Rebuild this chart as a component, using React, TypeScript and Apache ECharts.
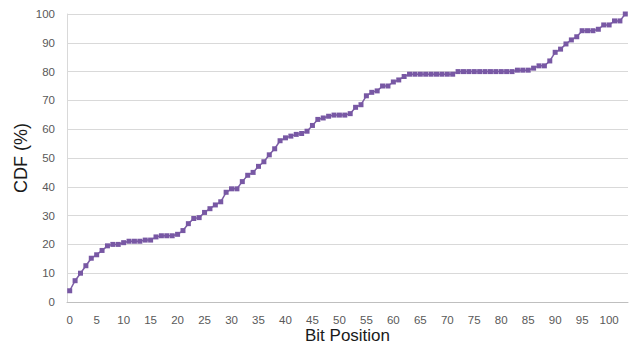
import React, { useEffect, useRef } from "react";
import * as echarts from "echarts";

// Bit positions 0..103 on the horizontal axis
const bitPositions: string[] = Array.from({ length: 104 }, (_, i) => String(i));

// Cumulative distribution (%) at each bit position
const cdfValues: number[] = [
  3.9, 7.4, 10.0, 12.6, 15.2, 16.4, 17.9, 19.5, 20.0, 20.0,
  20.6, 21.1, 21.1, 21.1, 21.5, 21.5, 22.6, 23.0, 23.0, 23.0,
  23.5, 24.8, 27.2, 29.0, 29.3, 31.1, 32.4, 33.7, 34.8, 38.1,
  39.3, 39.3, 41.8, 44.0, 45.0, 47.1, 48.7, 51.1, 53.2, 56.0,
  57.0, 57.6, 58.2, 58.5, 59.3, 61.3, 63.4, 63.9, 64.5, 64.9,
  64.9, 64.9, 65.4, 67.6, 68.5, 71.6, 72.8, 73.3, 75.0, 75.0,
  76.4, 77.1, 78.3, 79.1, 79.1, 79.1, 79.1, 79.1, 79.1, 79.1,
  79.1, 79.1, 80.0, 80.0, 80.0, 80.0, 80.0, 80.0, 80.0, 80.0,
  80.0, 80.0, 80.0, 80.5, 80.5, 80.5, 81.2, 82.0, 82.0, 83.7,
  86.7, 87.8, 89.6, 91.0, 92.1, 94.2, 94.2, 94.2, 94.7, 96.2,
  96.2, 97.6, 97.6, 100.0,
];

const xAxisTitle = "Bit Position";
const yAxisTitle = "CDF (%)";

export default function App() {
  const ref = useRef<HTMLDivElement>(null);

  useEffect(() => {
    if (!ref.current) return;
    const chart = echarts.init(ref.current, null, { renderer: "svg" });
    const font = "Liberation Sans, Arial, sans-serif";
    chart.setOption({
      animation: false,
      backgroundColor: "#ffffff",
      grid: {
        left: 67,
        right: 10,
        top: 14,
        bottom: 46,
        containLabel: false,
        outerBoundsMode: "none",
      },
      xAxis: {
        type: "category",
        data: bitPositions,
        boundaryGap: true,
        name: xAxisTitle,
        nameLocation: "middle",
        nameGap: 25,
        nameMoveOverlap: false,
        nameTextStyle: { fontFamily: font, fontSize: 17, color: "#1a1a1a" },
        axisLine: { lineStyle: { color: "#bfbfbf", width: 1 } },
        axisTick: { show: false },
        axisLabel: {
          interval: 4,
          fontFamily: font,
          fontSize: 11.5,
          color: "#595959",
          margin: 12,
        },
        splitLine: { show: false },
      },
      yAxis: {
        type: "value",
        min: 0,
        max: 100,
        interval: 10,
        name: yAxisTitle,
        nameLocation: "middle",
        nameGap: 37,
        nameRotate: 90,
        nameMoveOverlap: false,
        nameTextStyle: { fontFamily: font, fontSize: 18, color: "#1a1a1a" },
        axisLine: { show: true, lineStyle: { color: "#d9d9d9", width: 1 } },
        axisTick: { show: false },
        axisLabel: {
          fontFamily: font,
          fontSize: 11.5,
          color: "#595959",
          margin: 12,
        },
        splitLine: { lineStyle: { color: "#d9d9d9", width: 1 } },
      },
      series: [
        {
          type: "line",
          data: cdfValues,
          symbol: "rect",
          symbolSize: 5,
          showAllSymbol: true,
          lineStyle: { color: "#7d5ea6", width: 1.5 },
          itemStyle: { color: "#7858a4" },
        },
      ],
    });
    return () => chart.dispose();
  }, []);

  return (
    <div
      ref={ref}
      style={{ position: "fixed", left: 0, top: 0, width: 638, height: 348 }}
    />
  );
}
